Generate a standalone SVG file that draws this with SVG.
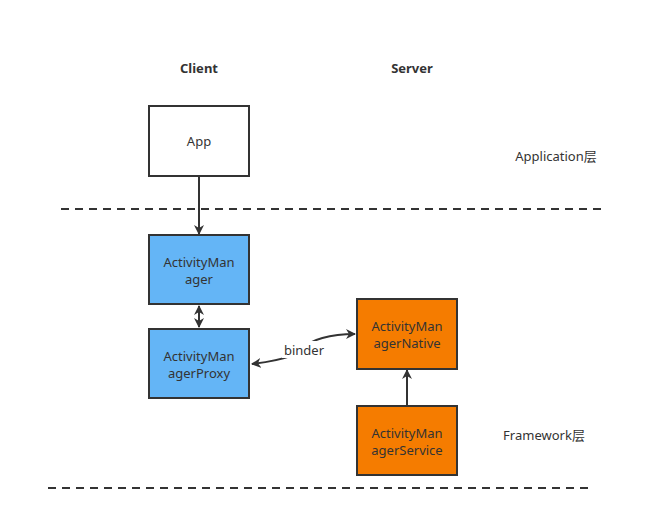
<svg xmlns="http://www.w3.org/2000/svg" width="648" height="520" viewBox="0 0 648 520">
<style>
text{font-family:"Noto Sans","Noto Sans CJK SC",sans-serif;font-size:13px;fill:#333;text-anchor:middle}
.b{font-weight:bold}
.box{stroke:#333;stroke-width:2}
.w{fill:#fff}.bl{fill:#64b5f6}.or{fill:#f57c00}
.c{stroke:#333;stroke-width:2;fill:none}
.d{stroke:#333;stroke-width:2;stroke-dasharray:8 6;fill:none}
</style>
<defs>
<marker id="ah" viewBox="0 0 10 10" refX="9" refY="5" markerWidth="10" markerHeight="10" markerUnits="userSpaceOnUse" orient="auto-start-reverse">
<path d="M0,0 L10,5 L0,10 L3,5 Z" fill="#333"/>
</marker>
</defs>
<rect width="648" height="520" fill="#fff"/>
<text class="b" x="199" y="73">Client</text>
<text class="b" x="412" y="73">Server</text>
<text x="556" y="161">Application层</text>
<text x="544" y="440">Framework层</text>
<g id="dashes">
<line class="d" x1="61" y1="209" x2="602" y2="209"/>
<line class="d" x1="48" y1="488" x2="589" y2="488"/>
</g>
<g id="connectors">
<line class="c" x1="199" y1="176" x2="199" y2="234" marker-end="url(#ah)"/>
<line class="c" x1="199" y1="306" x2="199" y2="327" marker-start="url(#ah)" marker-end="url(#ah)"/>
<line class="c" x1="407" y1="406" x2="407" y2="370" marker-end="url(#ah)"/>
<path class="c" d="M252,364 C300,358 300,350 304,348 C310,340 330,334 355,334" marker-start="url(#ah)" marker-end="url(#ah)"/>
<rect x="282" y="341" width="44" height="17" fill="#fff"/>
<text x="304" y="355">binder</text>
</g>
<g id="app"><rect class="box w" x="149" y="106" width="100" height="70"/><text x="199" y="146">App</text></g>
<g id="am"><rect class="box bl" x="149" y="235" width="100" height="69"/><text x="199" y="267">ActivityMan</text><text x="199" y="284">ager</text></g>
<g id="amp"><rect class="box bl" x="149" y="329" width="100" height="69"/><text x="199" y="361">ActivityMan</text><text x="199" y="378">agerProxy</text></g>
<g id="amn"><rect class="box or" x="357" y="299" width="100" height="70"/><text x="407" y="331">ActivityMan</text><text x="407" y="348">agerNative</text></g>
<g id="ams"><rect class="box or" x="357" y="406" width="100" height="69"/><text x="407" y="438">ActivityMan</text><text x="407" y="455">agerService</text></g>
</svg>
